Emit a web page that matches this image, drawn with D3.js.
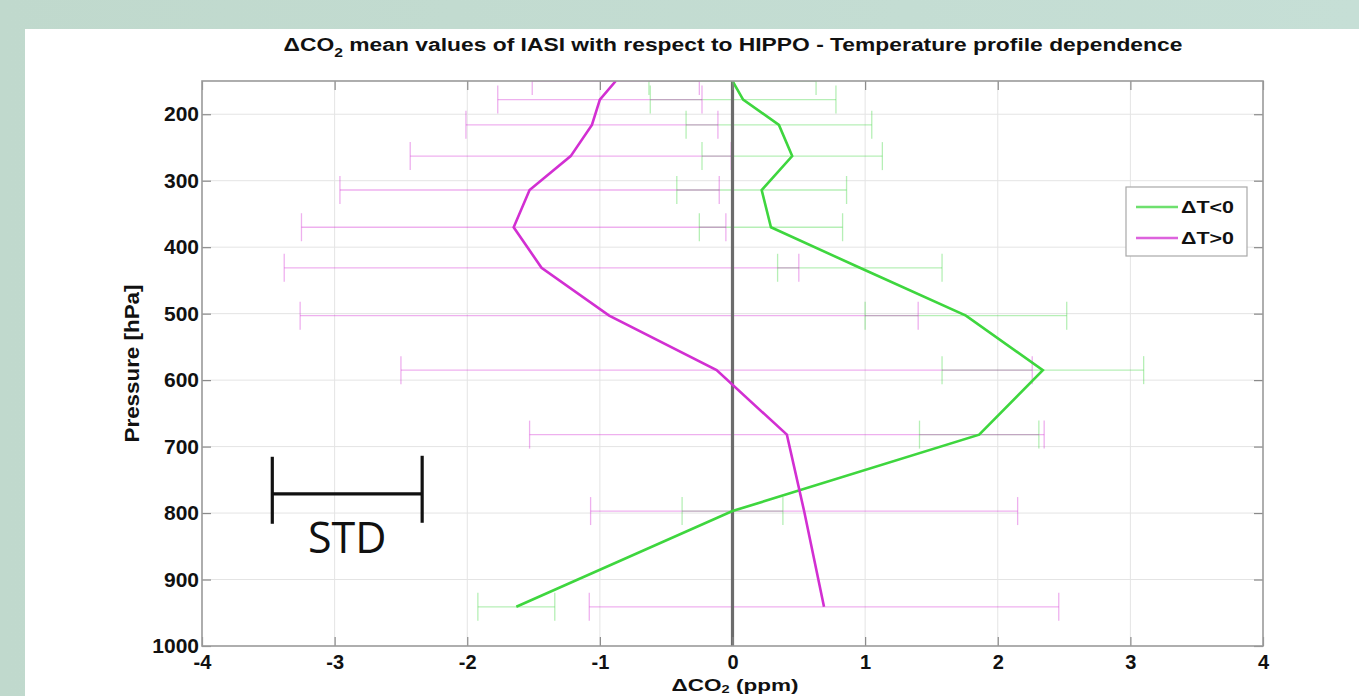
<!DOCTYPE html>
<html lang="en">
<head>
<meta charset="utf-8">
<title>CO2 profile dependence</title>
<script src="https://cdnjs.cloudflare.com/ajax/libs/d3/7.8.5/d3.min.js"></script>
<style>
    body { margin: 0; overflow: hidden; }
    svg text { font-family: "Liberation Sans", Arial, sans-serif; font-weight: bold; fill: #111; }
    .tick line { stroke: #8a8a8a; stroke-width: 1.2; }
    .grid line { stroke: #e4e4e4; stroke-width: 1; }
</style>
</head>
<body>
<div id="chart"></div>
<script>
// pressure levels (hPa)
const pressure = [150, 178, 216, 263, 314, 370, 431, 503, 585, 682, 797, 941];
// dT<0 (green)
const coldMean = [0.00, 0.08, 0.35, 0.45, 0.22, 0.29, 0.96, 1.76, 2.34, 1.86, 0.00, -1.63];
const coldStd  = [0.63, 0.70, 0.70, 0.68, 0.64, 0.54, 0.62, 0.76, 0.76, 0.45, 0.38, 0.29];
// dT>0 (magenta)
const warmMean = [-0.88, -1.00, -1.06, -1.22, -1.53, -1.65, -1.44, -0.93, -0.12, 0.41, 0.54, 0.69];
const warmStd  = [0.63, 0.77, 0.95, 1.21, 1.43, 1.60, 1.94, 2.33, 2.38, 1.94, 1.61, 1.77];

const xTicks = [-4, -3, -2, -1, 0, 1, 2, 3, 4];
const yTicks = [200, 300, 400, 500, 600, 700, 800, 900, 1000];
const seriesNames = ["\u0394T<0", "\u0394T>0"];
// STD annotation bracket, in data units
const stdLo = -3.47, stdHi = -2.34, stdP = 771;

const width = 1359, height = 696;
const margin = ({left: 202, right: 96, top: 81, bottom: 50});
const green = "#3ed63e", magenta = "#d22fd2";

const svg = d3.select("#chart").append("svg")
    .attr("width", width).attr("height", height);

// background + white panel
const grad = svg.append("defs").append("linearGradient").attr("id", "bg")
    .attr("x1", 0).attr("y1", 0).attr("x2", 1).attr("y2", 0);
grad.append("stop").attr("offset", 0).attr("stop-color", "#c0d9cd");
grad.append("stop").attr("offset", 1).attr("stop-color", "#c6dfd6");
svg.append("rect").attr("width", width).attr("height", height).attr("fill", "url(#bg)");
svg.append("rect").attr("x", 25).attr("y", 29).attr("width", width - 25).attr("height", height - 29).attr("fill", "#fff");

svg.select("defs").append("clipPath").attr("id", "plot")
    .append("rect").attr("x", margin.left).attr("y", margin.top)
    .attr("width", width - margin.left - margin.right)
    .attr("height", height - margin.top - margin.bottom);

const x = d3.scaleLinear().domain([-4, 4]).range([margin.left, width - margin.right]);
const y = d3.scaleLinear().domain([150, 1000]).range([margin.top, height - margin.bottom]);

// grid
svg.append("g").attr("class", "grid")
    .selectAll("line").data(xTicks.slice(1, -1)).join("line")
    .attr("x1", d => x(d)).attr("x2", d => x(d)).attr("y1", y(150)).attr("y2", y(1000));
svg.append("g").attr("class", "grid")
    .selectAll("line").data(yTicks.slice(0, -1)).join("line")
    .attr("x1", x(-4)).attr("x2", x(4)).attr("y1", d => y(d)).attr("y2", d => y(d));

// error bars
const capH = 14;
function errorBars(mean, std, color) {
    const g = svg.append("g").attr("clip-path", "url(#plot)")
        .attr("stroke", color).attr("stroke-opacity", 0.38).attr("stroke-width", 1.3);
    const rows = pressure.map((p, i) => ({p, lo: mean[i] - std[i], hi: mean[i] + std[i]}));
    g.selectAll("line.bar").data(rows).join("line").attr("class", "bar")
        .attr("x1", d => x(d.lo)).attr("x2", d => x(d.hi))
        .attr("y1", d => y(d.p)).attr("y2", d => y(d.p));
    g.selectAll("line.lo").data(rows).join("line").attr("class", "lo")
        .attr("x1", d => x(d.lo)).attr("x2", d => x(d.lo))
        .attr("y1", d => y(d.p) - capH).attr("y2", d => y(d.p) + capH);
    g.selectAll("line.hi").data(rows).join("line").attr("class", "hi")
        .attr("x1", d => x(d.hi)).attr("x2", d => x(d.hi))
        .attr("y1", d => y(d.p) - capH).attr("y2", d => y(d.p) + capH);
}
errorBars(coldMean, coldStd, green);
errorBars(warmMean, warmStd, magenta);

// zero line
svg.append("line")
    .attr("x1", x(0)).attr("x2", x(0)).attr("y1", y(150)).attr("y2", y(1000))
    .attr("stroke", "#6c6c6c").attr("stroke-width", 3.2);

// profiles
const line = d3.line().x(d => x(d[0])).y(d => y(d[1]));
svg.append("path").attr("clip-path", "url(#plot)")
    .attr("d", line(coldMean.map((v, i) => [v, pressure[i]])))
    .attr("fill", "none").attr("stroke", green).attr("stroke-width", 2.6);
svg.append("path").attr("clip-path", "url(#plot)")
    .attr("d", line(warmMean.map((v, i) => [v, pressure[i]])))
    .attr("fill", "none").attr("stroke", magenta).attr("stroke-width", 2.6);

// axes (inward ticks), plain hyphen minus like the original
const fmt = d => String(d);
const gx = svg.append("g").attr("transform", `translate(0,${y(1000)})`)
    .call(d3.axisBottom(x).tickValues(xTicks).tickSize(-9).tickPadding(9).tickFormat(fmt));
svg.append("g").attr("transform", `translate(0,${y(150)})`)
    .call(d3.axisTop(x).tickValues(xTicks).tickSize(-9).tickFormat(""));
const gy = svg.append("g").attr("transform", `translate(${x(-4)},0)`)
    .call(d3.axisLeft(y).tickValues(yTicks).tickSize(-9).tickPadding(3).tickFormat(fmt));
svg.append("g").attr("transform", `translate(${x(4)},0)`)
    .call(d3.axisRight(y).tickValues(yTicks).tickSize(-9).tickFormat(""));
svg.selectAll(".domain").remove();
gx.selectAll("text").attr("font-size", 20).style("fill", "#111");
gy.selectAll("text").attr("font-size", 21).style("fill", "#111");

// plot box
svg.append("rect")
    .attr("x", x(-4)).attr("y", y(150))
    .attr("width", x(4) - x(-4)).attr("height", y(1000) - y(150))
    .attr("fill", "none").attr("stroke", "#9a9a9a").attr("stroke-width", 1.6);

// stretch a text horizontally to a measured width
function fitWidth(sel, cx, target) {
    const w = sel.node().getBBox().width;
    sel.attr("transform", `translate(${cx},0) scale(${target / w},1) translate(${-cx},0)`);
}

// title
const title = svg.append("text").attr("x", 733).attr("y", 51)
    .attr("text-anchor", "middle").attr("font-size", 19);
title.append("tspan").text("\u0394CO");
title.append("tspan").attr("font-size", 13).attr("dy", 6).text("2");
title.append("tspan").attr("dy", -6).text(" mean values of IASI with respect to HIPPO - Temperature profile dependence");
fitWidth(title, 733, 899);

// axis labels
const xl = svg.append("text").attr("x", 735).attr("y", 691)
    .attr("text-anchor", "middle").attr("font-size", 17);
xl.append("tspan").text("\u0394CO");
xl.append("tspan").attr("font-size", 11).attr("dy", 2).text("2");
xl.append("tspan").attr("dy", -2).text(" (ppm)");
fitWidth(xl, 735, 127);

svg.append("text")
    .attr("transform", `translate(139,${(y(150) + y(1000)) / 2}) rotate(-90)`)
    .attr("text-anchor", "middle").attr("font-size", 20)
    .attr("textLength", 158).attr("lengthAdjust", "spacingAndGlyphs")
    .text("Pressure [hPa]");

// legend
const leg = svg.append("g");
leg.append("rect").attr("x", 1126).attr("y", 187).attr("width", 121).attr("height", 69)
    .attr("fill", "#fff").attr("stroke", "#a8a8a8").attr("stroke-width", 1.2);
[green, magenta].forEach((c, i) => {
    const ly = 207 + i * 31;
    leg.append("line").attr("x1", 1136).attr("x2", 1178).attr("y1", ly).attr("y2", ly)
        .attr("stroke", c).attr("stroke-width", 2.6).attr("stroke-opacity", 0.75);
    leg.append("text").attr("x", 1181).attr("y", ly + 6).attr("font-size", 17)
        .attr("textLength", 53).attr("lengthAdjust", "spacingAndGlyphs")
        .text(seriesNames[i]);
});

// STD annotation
const ann = svg.append("g").attr("stroke", "#111").attr("stroke-width", 3.2);
ann.append("line").attr("x1", x(stdLo)).attr("x2", x(stdHi)).attr("y1", y(stdP)).attr("y2", y(stdP));
ann.append("line").attr("x1", x(stdLo)).attr("x2", x(stdLo)).attr("y1", y(stdP) - 37).attr("y2", y(stdP) + 30);
ann.append("line").attr("x1", x(stdHi)).attr("x2", x(stdHi)).attr("y1", y(stdP) - 38).attr("y2", y(stdP) + 29);
svg.append("text").attr("x", (x(stdLo) + x(stdHi)) / 2).attr("y", 553)
    .attr("text-anchor", "middle").attr("font-size", 43)
    .style("font-family", "'Open Sans', sans-serif").style("font-weight", "normal")
    .text("STD");
</script>
</body>
</html>
